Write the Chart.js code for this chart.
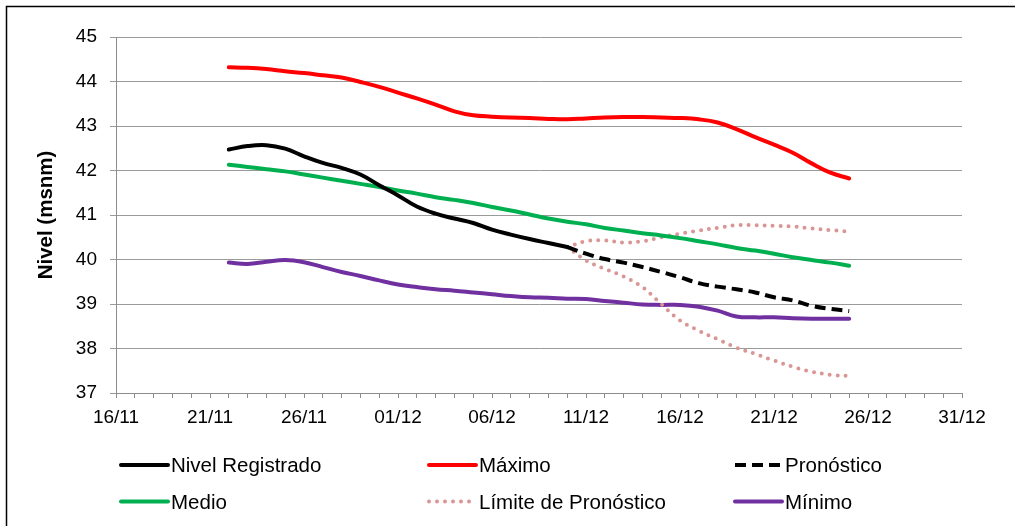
<!DOCTYPE html>
<html>
<head>
<meta charset="utf-8">
<script src="https://cdn.jsdelivr.net/npm/chart.js@4/dist/chart.umd.min.js"></script>
<style>
  html, body { margin: 0; padding: 0; background: #fff; }
  #wrap { width: 1015px; height: 526px; position: relative; }
</style>
</head>
<body>
<div id="wrap"><canvas id="c" width="1015" height="526"></canvas></div>
<script>
// Every day on the horizontal axis, 16/11 through 31/12
const axisDays = [];
for (let d = 16; d <= 30; d++) axisDays.push(d + '/11');
for (let d = 1; d <= 31; d++) axisDays.push(String(d).padStart(2, '0') + '/12');

// Labelled ticks on the horizontal axis
const xTickLabels = ['16/11', '21/11', '26/11', '01/12', '06/12', '11/12', '16/12', '21/12', '26/12', '31/12'];

// Days with data: 22/11 through 25/12
const seriesDays = axisDays.slice(axisDays.indexOf('22/11'), axisDays.indexOf('25/12') + 1);

// Levels (msnm), one value per day in seriesDays
const nivelRegistrado = [42.47, 42.55, 42.57, 42.49, 42.32, 42.17, 42.06, 41.91, 41.67, 41.44,
  41.19, 41.03, 40.92, 40.82, 40.67, 40.56, 40.46, 40.37, 40.28,
  null, null, null, null, null, null, null, null, null, null, null, null, null, null, null];

const maximo = [44.32, 44.31, 44.28, 44.23, 44.19, 44.14, 44.09, 43.99, 43.88, 43.75,
  43.62, 43.48, 43.33, 43.24, 43.21, 43.19, 43.18, 43.16, 43.15, 43.17,
  43.19, 43.20, 43.20, 43.19, 43.18, 43.15, 43.08, 42.93, 42.75, 42.58,
  42.40, 42.16, 41.95, 41.82];

const pronostico = [null, null, null, null, null, null, null, null, null, null,
  null, null, null, null, null, null, null, null,
  40.28, 40.13, 40.01, 39.93, 39.83, 39.72, 39.60, 39.47, 39.39, 39.33,
  39.26, 39.15, 39.08, 38.96, 38.89, 38.84];

const medio = [42.13, 42.08, 42.03, 41.98, 41.91, 41.84, 41.77, 41.70, 41.63, 41.55,
  41.48, 41.40, 41.34, 41.27, 41.18, 41.10, 41.01, 40.92, 40.85, 40.79,
  40.71, 40.65, 40.59, 40.54, 40.48, 40.41, 40.34, 40.26, 40.20, 40.13,
  40.05, 39.99, 39.93, 39.86];

const limiteSuperior = [null, null, null, null, null, null, null, null, null, null,
  null, null, null, null, null, null, null, null,
  40.28, 40.41, 40.43, 40.38, 40.41, 40.50, 40.58, 40.65, 40.71, 40.77,
  40.77, 40.76, 40.74, 40.70, 40.66, 40.63];

const limiteInferior = [null, null, null, null, null, null, null, null, null, null,
  null, null, null, null, null, null, null, null,
  40.28, 39.98, 39.79, 39.62, 39.38, 39.00, 38.63, 38.40, 38.21, 38.02,
  37.88, 37.73, 37.59, 37.48, 37.41, 37.38];

const minimo = [39.93, 39.90, 39.95, 39.99, 39.94, 39.83, 39.72, 39.63, 39.53, 39.44,
  39.38, 39.33, 39.30, 39.26, 39.22, 39.18, 39.15, 39.14, 39.12, 39.11,
  39.07, 39.03, 38.99, 38.98, 38.98, 38.94, 38.85, 38.72, 38.70, 38.70,
  38.68, 38.67, 38.67, 38.67];

const FONT = '"Liberation Sans", Arial, sans-serif';

function points(values) {
  return seriesDays.map((day, i) => ({ x: day, y: values[i] }));
}

const lineDefaults = {
  pointRadius: 0,
  pointHoverRadius: 0,
  fill: false,
  tension: 0.4,
  borderWidth: 4,
  borderCapStyle: 'round',
  borderJoinStyle: 'round'
};

// Outer frame of the chart
const framePlugin = {
  id: 'frame',
  afterDraw(chart) {
    const ctx = chart.ctx;
    ctx.save();
    ctx.strokeStyle = '#000';
    ctx.lineWidth = 1.5;
    ctx.strokeRect(6.5, 6.5, 1200, 700);
    ctx.restore();
  }
};

// Two-row legend under the axis, three entries per row
const legendPlugin = {
  id: 'gridLegend',
  afterDraw(chart) {
    const ctx = chart.ctx;
    const cols = [121, 429, 735];
    const rows = [465, 501.5];
    const sampleLen = 47;
    const entries = chart.data.datasets.filter(ds => !ds.legendHidden);
    ctx.save();
    entries.forEach((ds, k) => {
      const x = cols[k % 3];
      const y = rows[Math.floor(k / 3)];
      ctx.beginPath();
      ctx.strokeStyle = ds.borderColor;
      ctx.lineWidth = ds.borderWidth;
      ctx.lineCap = ds.borderCapStyle || 'butt';
      ctx.setLineDash(ds.borderDash || []);
      ctx.moveTo(x, y);
      ctx.lineTo(x + sampleLen, y);
      ctx.stroke();
      ctx.setLineDash([]);
      ctx.fillStyle = '#000';
      ctx.font = '20.5px ' + FONT;
      ctx.textBaseline = 'alphabetic';
      ctx.textAlign = 'left';
      ctx.fillText(ds.label, x + 50, y + 7.3);
    });
    ctx.restore();
  }
};

new Chart(document.getElementById('c'), {
  type: 'line',
  data: {
    labels: axisDays,
    datasets: [
      Object.assign({}, lineDefaults, { label: 'Nivel Registrado', data: points(nivelRegistrado), borderColor: '#000000' }),
      Object.assign({}, lineDefaults, { label: 'Máximo', data: points(maximo), borderColor: '#ff0000' }),
      Object.assign({}, lineDefaults, { label: 'Pronóstico', data: points(pronostico), borderColor: '#000000', borderDash: [11, 6], borderCapStyle: 'butt' }),
      Object.assign({}, lineDefaults, { label: 'Medio', data: points(medio), borderColor: '#00b050' }),
      Object.assign({}, lineDefaults, { label: 'Límite de Pronóstico', data: points(limiteSuperior), borderColor: '#d99694', borderWidth: 4, borderDash: [0, 8], borderCapStyle: 'round' }),
      Object.assign({}, lineDefaults, { label: 'Límite de Pronóstico', data: points(limiteInferior), borderColor: '#d99694', borderWidth: 4, borderDash: [0, 8], borderCapStyle: 'round', legendHidden: true }),
      Object.assign({}, lineDefaults, { label: 'Mínimo', data: points(minimo), borderColor: '#7030a0' })
    ]
  },
  options: {
    responsive: false,
    animation: false,
    devicePixelRatio: 1,
    events: [],
    layout: { padding: { left: 0, top: 37, right: 53, bottom: 0 } },
    plugins: {
      legend: { display: false },
      tooltip: { enabled: false }
    },
    scales: {
      x: {
        type: 'category',
        offset: false,
        grid: { drawOnChartArea: false, drawTicks: true, tickLength: 5, color: '#8c8c8c', lineWidth: 1 },
        border: { color: '#8c8c8c', width: 1 },
        ticks: {
          autoSkip: false,
          maxRotation: 0,
          minRotation: 0,
          padding: 8,
          color: '#000',
          font: { family: FONT, size: 19 },
          callback(value, index) {
            const label = axisDays[index];
            return xTickLabels.includes(label) ? label : '';
          }
        },
        afterFit(scale) { scale.height = 133; }
      },
      y: {
        min: 37,
        max: 45,
        grid: { color: '#9a9a9a', lineWidth: 1, tickLength: 6 },
        border: { color: '#8c8c8c', width: 1 },
        ticks: {
          stepSize: 1,
          padding: 13,
          color: '#000',
          font: { family: FONT, size: 19 }
        },
        title: {
          display: true,
          text: 'Nivel (msnm)',
          color: '#000',
          font: { family: FONT, size: 20.5, weight: 'bold' },
          padding: { top: 34, bottom: 0 }
        },
        afterFit(scale) { scale.width = 116; }
      }
    }
  },
  plugins: [framePlugin, legendPlugin]
});
</script>
</body>
</html>
